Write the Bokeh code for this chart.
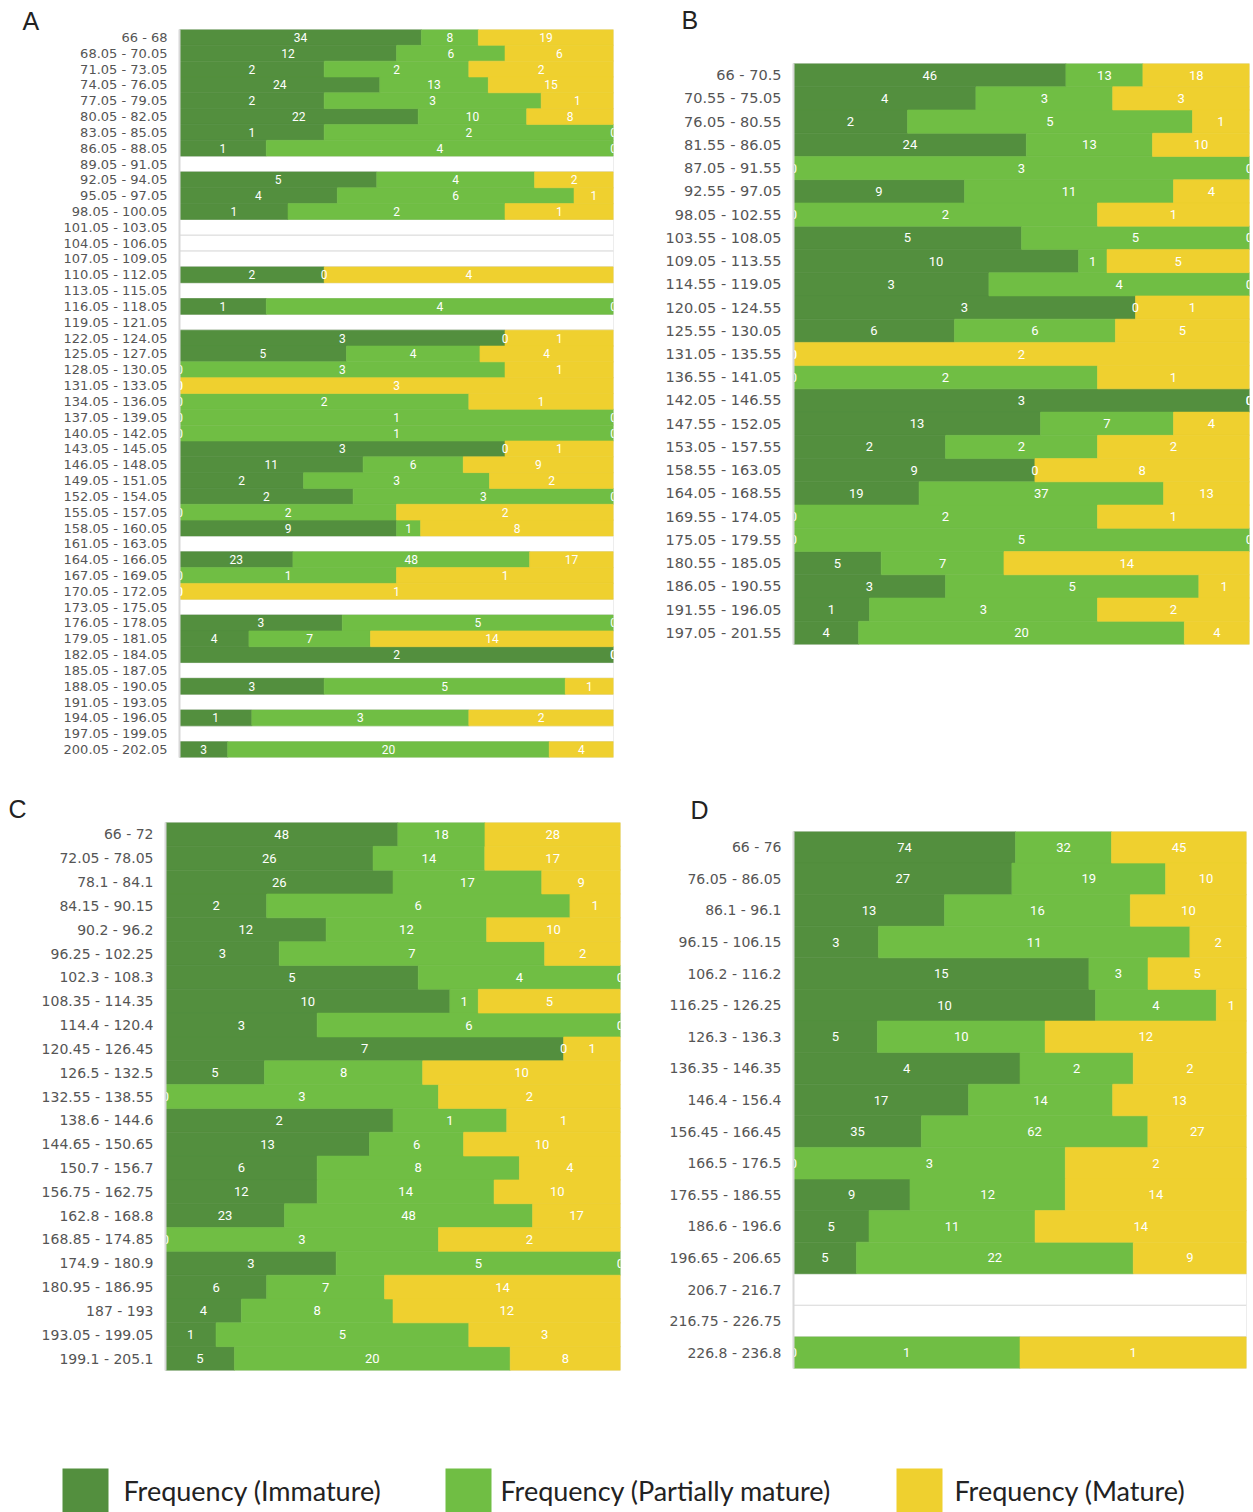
from bokeh.plotting import figure
from bokeh.models import ColumnDataSource, FactorRange, Range1d
from bokeh.layouts import column, row
from bokeh.embed import file_html
from bokeh.resources import INLINE
from bokeh.core.properties import value

# ---------------- data ----------------
SERIES = ["Frequency (Immature)", "Frequency (Partially mature)", "Frequency (Mature)"]
COLORS = ["#538F3E", "#70BE44", "#EFD02F"]

a_cats = ["66 - 68", "68.05 - 70.05", "71.05 - 73.05", "74.05 - 76.05", "77.05 - 79.05",
          "80.05 - 82.05", "83.05 - 85.05", "86.05 - 88.05", "89.05 - 91.05", "92.05 - 94.05",
          "95.05 - 97.05", "98.05 - 100.05", "101.05 - 103.05", "104.05 - 106.05", "107.05 - 109.05",
          "110.05 - 112.05", "113.05 - 115.05", "116.05 - 118.05", "119.05 - 121.05", "122.05 - 124.05",
          "125.05 - 127.05", "128.05 - 130.05", "131.05 - 133.05", "134.05 - 136.05", "137.05 - 139.05",
          "140.05 - 142.05", "143.05 - 145.05", "146.05 - 148.05", "149.05 - 151.05", "152.05 - 154.05",
          "155.05 - 157.05", "158.05 - 160.05", "161.05 - 163.05", "164.05 - 166.05", "167.05 - 169.05",
          "170.05 - 172.05", "173.05 - 175.05", "176.05 - 178.05", "179.05 - 181.05", "182.05 - 184.05",
          "185.05 - 187.05", "188.05 - 190.05", "191.05 - 193.05", "194.05 - 196.05", "197.05 - 199.05",
          "200.05 - 202.05"]
a_imm = [34, 12, 2, 24, 2, 22, 1, 1, None, 5, 4, 1, None, None, None, 2, None, 1, None, 3,
         5, 0, 0, 0, 0, 0, 3, 11, 2, 2, 0, 9, None, 23, 0, 0, None, 3, 4, 2, None, 3, None, 1, None, 3]
a_part = [8, 6, 2, 13, 3, 10, 2, 4, None, 4, 6, 2, None, None, None, 0, None, 4, None, 0,
          4, 3, 0, 2, 1, 1, 0, 6, 3, 3, 2, 1, None, 48, 1, 0, None, 5, 7, 0, None, 5, None, 3, None, 20]
a_mat = [19, 6, 2, 15, 1, 8, 0, 0, None, 2, 1, 1, None, None, None, 4, None, 0, None, 1,
         4, 1, 3, 1, 0, 0, 1, 9, 2, 0, 2, 8, None, 17, 1, 1, None, 0, 14, 0, None, 1, None, 2, None, 4]

b_cats = ["66 - 70.5", "70.55 - 75.05", "76.05 - 80.55", "81.55 - 86.05", "87.05 - 91.55",
          "92.55 - 97.05", "98.05 - 102.55", "103.55 - 108.05", "109.05 - 113.55", "114.55 - 119.05",
          "120.05 - 124.55", "125.55 - 130.05", "131.05 - 135.55", "136.55 - 141.05", "142.05 - 146.55",
          "147.55 - 152.05", "153.05 - 157.55", "158.55 - 163.05", "164.05 - 168.55", "169.55 - 174.05",
          "175.05 - 179.55", "180.55 - 185.05", "186.05 - 190.55", "191.55 - 196.05", "197.05 - 201.55"]
b_imm = [46, 4, 2, 24, 0, 9, 0, 5, 10, 3, 3, 6, 0, 0, 3, 13, 2, 9, 19, 0, 0, 5, 3, 1, 4]
b_part = [13, 3, 5, 13, 3, 11, 2, 5, 1, 4, 0, 6, 0, 2, 0, 7, 2, 0, 37, 2, 5, 7, 5, 3, 20]
b_mat = [18, 3, 1, 10, 0, 4, 1, 0, 5, 0, 1, 5, 2, 1, 0, 4, 2, 8, 13, 1, 0, 14, 1, 2, 4]

c_cats = ["66 - 72", "72.05 - 78.05", "78.1 - 84.1", "84.15 - 90.15", "90.2 - 96.2",
          "96.25 - 102.25", "102.3 - 108.3", "108.35 - 114.35", "114.4 - 120.4", "120.45 - 126.45",
          "126.5 - 132.5", "132.55 - 138.55", "138.6 - 144.6", "144.65 - 150.65", "150.7 - 156.7",
          "156.75 - 162.75", "162.8 - 168.8", "168.85 - 174.85", "174.9 - 180.9", "180.95 - 186.95",
          "187 - 193", "193.05 - 199.05", "199.1 - 205.1"]
c_imm = [48, 26, 26, 2, 12, 3, 5, 10, 3, 7, 5, 0, 2, 13, 6, 12, 23, 0, 3, 6, 4, 1, 5]
c_part = [18, 14, 17, 6, 12, 7, 4, 1, 6, 0, 8, 3, 1, 6, 8, 14, 48, 3, 5, 7, 8, 5, 20]
c_mat = [28, 17, 9, 1, 10, 2, 0, 5, 0, 1, 10, 2, 1, 10, 4, 10, 17, 2, 0, 14, 12, 3, 8]

d_cats = ["66 - 76", "76.05 - 86.05", "86.1 - 96.1", "96.15 - 106.15", "106.2 - 116.2",
          "116.25 - 126.25", "126.3 - 136.3", "136.35 - 146.35", "146.4 - 156.4", "156.45 - 166.45",
          "166.5 - 176.5", "176.55 - 186.55", "186.6 - 196.6", "196.65 - 206.65", "206.7 - 216.7",
          "216.75 - 226.75", "226.8 - 236.8"]
d_imm = [74, 27, 13, 3, 15, 10, 5, 4, 17, 35, 0, 9, 5, 5, None, None, 0]
d_part = [32, 19, 16, 11, 3, 4, 10, 2, 14, 62, 3, 12, 11, 22, None, None, 1]
d_mat = [45, 10, 10, 2, 5, 1, 12, 2, 13, 27, 2, 14, 14, 9, None, None, 1]

PANEL_LETTERS = ["A", "B", "C", "D"]


# ---------------- helpers ----------------
def build_sources(cats, imm, part, mat):
    bars = dict(cat=[], l1=[], r1=[], l2=[], r2=[], l3=[], r3=[], a1=[], a2=[], a3=[])
    labs = dict(cat=[], x=[], txt=[])
    for c, v1, v2, v3 in zip(cats, imm, part, mat):
        bars["cat"].append(c)
        if v1 is None:
            for k in ("l1", "r1", "l2", "r2", "l3", "r3", "a1", "a2", "a3"):
                bars[k].append(0)
            continue
        tot = v1 + v2 + v3
        edges = [0.0, v1 / tot, (v1 + v2) / tot, 1.0]
        for j, v in enumerate((v1, v2, v3)):
            bars["l%d" % (j + 1)].append(edges[j])
            bars["r%d" % (j + 1)].append(edges[j + 1])
            bars["a%d" % (j + 1)].append(1 if v > 0 else 0)
            labs["cat"].append(c)
            labs["x"].append((edges[j] + edges[j + 1]) / 2)
            labs["txt"].append(str(v))
    return ColumnDataSource(bars), ColumnDataSource(labs)


def blank_fig(W, H):
    f = figure(width=W, height=H, x_range=Range1d(0, W), y_range=Range1d(0, H),
               output_backend="svg", toolbar_location=None, frame_align=False,
               min_border_left=0, min_border_right=0, min_border_top=0, min_border_bottom=0)
    f.axis.visible = False
    f.grid.visible = False
    f.outline_line_color = None
    return f


def letter_fig(letter, W, H, tx, ty):
    h = blank_fig(W, H)
    h.text(x=[tx], y=[ty], text=[letter], text_color="#222222", text_align="left",
           text_baseline="middle", text_font=value("Liberation Sans"),
           text_font_size=value("25px"))
    return h


def make_panel(cats, imm, part, mat, W, H, L, R, T, B, lab_size, num_size):
    src, lsrc = build_sources(cats, imm, part, mat)
    p = figure(width=W, height=H, x_range=Range1d(0, 1),
               y_range=FactorRange(factors=list(reversed(cats))),
               output_backend="svg", toolbar_location=None, frame_align=False,
               min_border_left=L, min_border_right=R, min_border_top=T, min_border_bottom=B)
    p.xaxis.visible = False
    p.grid.visible = False
    p.outline_line_color = None
    p.background_fill_color = "white"
    p.yaxis.axis_line_color = "#d8d8d8"
    p.yaxis.axis_line_width = 2
    p.yaxis.major_tick_line_color = None
    p.yaxis.minor_tick_line_color = None
    p.yaxis.major_label_text_font = "DejaVu Sans"
    p.yaxis.major_label_text_font_size = lab_size
    p.yaxis.major_label_text_color = "#555555"
    p.yaxis.major_label_standoff = 6

    p.hbar(y="cat", left=0, right=1, height=1.0, fill_color="white",
           line_color="#dcdcdc", line_width=1, source=src)
    for j, col in enumerate(COLORS):
        k = j + 1
        p.hbar(y="cat", left="l%d" % k, right="r%d" % k, height=1.0, fill_color=col,
               line_color=col, line_alpha="a%d" % k, line_width=0.6, source=src)
    p.text(x="x", y="cat", text="txt", source=lsrc, text_color="white",
           text_align="center", text_baseline="middle",
           text_font=value("Roboto"), text_font_size=value(num_size))
    return p


# panel A: letter column on the left, chart to its right
hA = letter_fig(PANEL_LETTERS[0], 50, 795, 22, 775)
pA = make_panel(a_cats, a_imm, a_part, a_mat, 590, 795, 129, 27, 29, 38, "13px", "12px")
# panel B: letter strip above the chart
hB = letter_fig(PANEL_LETTERS[1], 613, 40, 41, 20.5)
pB = make_panel(b_cats, b_imm, b_part, b_mat, 613, 755, 153, 4, 23, 151, "14.5px", "13px")
# panel C: letter column on the left
hC = letter_fig(PANEL_LETTERS[2], 30, 645, 8, 632)
pC = make_panel(c_cats, c_imm, c_part, c_mat, 610, 645, 135, 20, 27, 70, "14px", "13px")
# panel D: letter strip above the chart
hD = letter_fig(PANEL_LETTERS[3], 613, 36, 50, 22)
pD = make_panel(d_cats, d_imm, d_part, d_mat, 613, 609, 153, 7, 0, 72, "14px", "13px")

# ---------------- legend ----------------
LEG_W, LEG_H = 1253, 72
LEG_BOX_X = [62, 445, 896]
LEG_TXT_X = [123, 500, 954]
pL = blank_fig(LEG_W, LEG_H)
leg_src = ColumnDataSource(dict(
    left=LEG_BOX_X, right=[x + 46 for x in LEG_BOX_X], color=COLORS,
    tx=LEG_TXT_X, label=SERIES))
pL.quad(left="left", right="right", bottom=0, top=44, fill_color="color", line_color=None, source=leg_src)
pL.text(x="tx", y=22, text="label", source=leg_src, text_color="#222222",
        text_align="left", text_baseline="middle",
        text_font=value("Lato"), text_font_size=value("27px"))

layout = column(row(hA, pA, column(hB, pB)),
                row(hC, pC, column(hD, pD)),
                pL)
open("out.html", "w").write(file_html(layout, INLINE))
